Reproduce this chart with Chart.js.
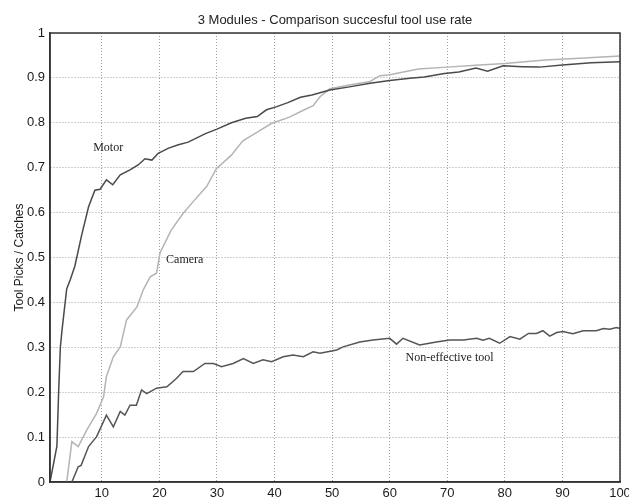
<!DOCTYPE html>
<html>
<head>
<meta charset="utf-8">
<script src="https://cdn.jsdelivr.net/npm/chart.js@4.4.0/dist/chart.umd.min.js"></script>
<style>
  body { margin: 0; background: #fff; }
</style>
</head>
<body>
<canvas id="chart" width="629" height="500"></canvas>
<script>
// values
var motorX = [1, 1.6, 2.2, 2.5, 2.8, 3.1, 3.9, 4.5, 5.3, 6.5, 7.7, 8.8, 9.7, 10.8, 11.9, 13.2, 14.9, 16.3, 17.5, 18.7, 19.8, 21.5, 23.3, 25, 28, 30, 32.5, 35, 37, 38.6, 40.4, 42.3, 44.5, 46.5, 49.6, 53, 56.6, 60, 63.5, 66, 69.5, 72, 75, 77, 79.7, 83, 86, 90, 95, 100]
var motorY = [0, 0.04, 0.08, 0.2, 0.3, 0.34, 0.43, 0.45, 0.48, 0.55, 0.613, 0.65, 0.652, 0.673, 0.662, 0.684, 0.695, 0.706, 0.72, 0.717, 0.732, 0.743, 0.751, 0.757, 0.776, 0.786, 0.8, 0.81, 0.814, 0.829, 0.836, 0.845, 0.857, 0.862, 0.873, 0.88, 0.888, 0.894, 0.899, 0.902, 0.91, 0.913, 0.922, 0.915, 0.927, 0.925, 0.924, 0.929, 0.934, 0.936]

var cameraX = [3.9, 4.8, 5.9, 7.4, 9.1, 10.3, 10.8, 12, 13.2, 14.3, 16.1, 17.2, 18.4, 19.5, 20.1, 22, 24.1, 25.9, 28.2, 29.9, 32.5, 34.5, 37, 39.5, 42.5, 45, 46.7, 47.9, 49.6, 53, 56.6, 58.3, 60, 65, 70, 75, 80, 87, 93, 100]
var cameraY = [0, 0.09, 0.079, 0.116, 0.153, 0.19, 0.235, 0.279, 0.301, 0.361, 0.39, 0.428, 0.457, 0.465, 0.51, 0.56, 0.598, 0.625, 0.658, 0.698, 0.728, 0.76, 0.779, 0.799, 0.812, 0.828, 0.838, 0.858, 0.876, 0.884, 0.892, 0.905, 0.907, 0.92, 0.924, 0.928, 0.932, 0.94, 0.944, 0.949]

var toolX = [4.8, 5.9, 6.4, 7.7, 9.1, 10.8, 12, 13.2, 14, 14.9, 16, 16.9, 17.8, 19.5, 21.3, 23, 24.1, 25.9, 27.9, 29.4, 30.8, 32.8, 34.6, 36.3, 38, 39.5, 41.5, 43.2, 45, 46.7, 47.9, 50.8, 51.9, 54.8, 57.1, 60, 61.2, 62.3, 65.2, 68.1, 70.4, 72.8, 75.1, 76.2, 77.3, 79.1, 80.9, 82.6, 84.1, 85.5, 86.6, 87.8, 89, 90.1, 91.8, 93.6, 95.9, 97.1, 98.2, 99.4, 100]
var toolY = [0, 0.034, 0.037, 0.079, 0.101, 0.149, 0.123, 0.157, 0.149, 0.171, 0.171, 0.205, 0.197, 0.209, 0.212, 0.231, 0.246, 0.246, 0.264, 0.264, 0.257, 0.264, 0.275, 0.264, 0.272, 0.268, 0.279, 0.283, 0.279, 0.29, 0.287, 0.294, 0.301, 0.312, 0.316, 0.32, 0.307, 0.32, 0.305, 0.312, 0.316, 0.316, 0.32, 0.316, 0.32, 0.309, 0.324, 0.318, 0.331, 0.331, 0.337, 0.325, 0.333, 0.335, 0.33, 0.337, 0.337, 0.342, 0.34, 0.344, 0.342]

var xTicks = [10, 20, 30, 40, 50, 60, 70, 80, 90, 100]
var yTicks = [0, 0.1, 0.2, 0.3, 0.4, 0.5, 0.6, 0.7, 0.8, 0.9, 1]

// text written inside the plot, placed in data units
var noteText = ['Motor', 'Camera', 'Non-effective tool']
var noteX = [11.1, 24.4, 70.4]
var noteY = [0.744, 0.494, 0.276]

var chartTitle = '3 Modules - Comparison succesful tool use rate'

function toPoints(xs, ys) {
    return xs.map(function(x, i) { return {x: x, y: ys[i]} })
}

var frameAndNotes = {
    id: 'frameAndNotes',
    afterDraw: function(chart) {
        var ctx = chart.ctx
        var a = chart.chartArea
        var sx = chart.scales.x, sy = chart.scales.y
        ctx.save()
        ctx.strokeStyle = '#333'
        ctx.lineWidth = 1.5
        ctx.strokeRect(a.left, a.top, a.right - a.left, a.bottom - a.top)

        ctx.fillStyle = '#222'
        ctx.textAlign = 'center'
        ctx.textBaseline = 'middle'
        ctx.font = '13px "Liberation Sans", Arial, sans-serif'
        ctx.fillText(chartTitle, (a.left + a.right) / 2, 20)

        ctx.font = '12px "Liberation Serif", "Times New Roman", serif'
        for (var i = 0; i < noteText.length; i++) {
            ctx.fillText(noteText[i], sx.getPixelForValue(noteX[i]), sy.getPixelForValue(noteY[i]))
        }
        ctx.restore()
    }
}

Chart.defaults.font.family = '"Liberation Sans", Arial, sans-serif'
Chart.defaults.font.size = 13
Chart.defaults.color = '#1a1a1a'

var ctx = document.getElementById('chart').getContext('2d')
var chart = new Chart(ctx, {
    type: 'line',
    data: {
        datasets: [
            {
                label: 'Motor',
                data: toPoints(motorX, motorY),
                borderColor: '#4a4a4a',
                borderWidth: 1.5
            },
            {
                label: 'Camera',
                data: toPoints(cameraX, cameraY),
                borderColor: '#b4b4b4',
                borderWidth: 1.5
            },
            {
                label: 'Non-effective tool',
                data: toPoints(toolX, toolY),
                borderColor: '#555555',
                borderWidth: 1.5
            }
        ]
    },
    options: {
        responsive: false,
        animation: false,
        events: [],
        elements: {
            point: { radius: 0 },
            line: { tension: 0 }
        },
        layout: { padding: { top: 33, right: 9, left: 0, bottom: 0 } },
        plugins: {
            legend: { display: false },
            title: { display: false },
            tooltip: { enabled: false }
        },
        scales: {
            x: {
                type: 'linear',
                min: 1,
                max: 100,
                afterBuildTicks: function(s) {
                    s.ticks = xTicks.map(function(v) { return {value: v} })
                },
                afterFit: function(s) {
                    s.height = 18
                    s.paddingLeft = 0
                    s.paddingRight = 0
                },
                ticks: { padding: 4, maxRotation: 0, autoSkip: false },
                grid: { color: '#a0a0a0', lineWidth: 1, drawTicks: false },
                border: { color: '#333', width: 1.5, dash: [1, 2] }
            },
            y: {
                type: 'linear',
                min: 0,
                max: 1,
                afterBuildTicks: function(s) {
                    s.ticks = yTicks.map(function(v) { return {value: v} })
                },
                afterFit: function(s) {
                    s.width = 50
                },
                ticks: {
                    padding: 5,
                    autoSkip: false,
                    callback: function(v) { return String(Math.round(v * 10) / 10) }
                },
                grid: { color: '#a0a0a0', lineWidth: 1, drawTicks: false },
                border: { color: '#333', width: 1.5, dash: [1, 2] },
                title: {
                    display: true,
                    text: 'Tool Picks / Catches',
                    font: { size: 12 },
                    padding: { top: 12, bottom: 0 }
                }
            }
        }
    },
    plugins: [frameAndNotes]
})
</script>
</body>
</html>
